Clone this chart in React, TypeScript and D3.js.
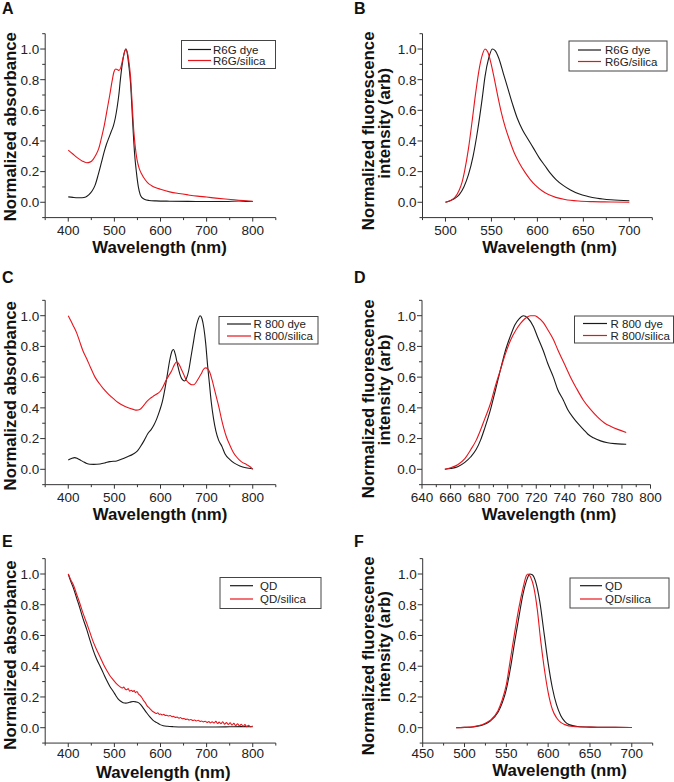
import React from "react";
import * as d3 from "d3";

type Pt = [number, number];

// ---------- Panel A: absorbance, R6G ----------
const r6gDyeAbs: Pt[] = [
  [400, 0.035], [410, 0.032], [420, 0.03], [430, 0.03], [438, 0.035], [445, 0.05], [452, 0.075],
  [458, 0.11], [465, 0.18], [472, 0.26], [478, 0.33], [483, 0.38], [488, 0.42], [493, 0.46],
  [498, 0.5], [502, 0.55], [506, 0.62], [510, 0.71], [513, 0.8], [517, 0.9], [521, 0.97],
  [525, 1.0], [528, 0.97], [531, 0.9], [535, 0.78], [538, 0.62], [541, 0.45], [544, 0.31],
  [548, 0.19], [552, 0.1], [556, 0.05], [560, 0.03], [566, 0.018], [575, 0.012], [590, 0.009],
  [620, 0.007], [660, 0.006], [700, 0.005], [740, 0.005], [770, 0.008], [785, 0.006], [800, 0.005],
];
const r6gSilicaAbs: Pt[] = [
  [400, 0.34], [410, 0.315], [420, 0.29], [430, 0.27], [440, 0.258], [447, 0.262], [454, 0.28],
  [460, 0.31], [466, 0.35], [472, 0.42], [478, 0.5], [484, 0.6], [490, 0.7], [495, 0.79],
  [499, 0.85], [503, 0.87], [507, 0.865], [510, 0.86], [514, 0.88], [518, 0.93], [522, 0.98],
  [525, 1.0], [528, 0.98], [531, 0.93], [535, 0.82], [539, 0.62], [542, 0.47], [545, 0.37],
  [549, 0.28], [554, 0.22], [560, 0.18], [566, 0.15], [573, 0.125], [580, 0.11], [590, 0.095],
  [600, 0.085], [620, 0.068], [640, 0.057], [660, 0.048], [680, 0.04], [700, 0.034], [720, 0.027],
  [740, 0.021], [760, 0.016], [780, 0.011], [800, 0.006],
];

// ---------- Panel B: fluorescence, R6G ----------
const r6gDyeFl: Pt[] = [
  [500, 0], [505, 0.01], [510, 0.025], [515, 0.05], [520, 0.1], [525, 0.18], [530, 0.3],
  [535, 0.47], [540, 0.68], [543, 0.82], [547, 0.94], [551, 1.0], [554, 0.99], [558, 0.94],
  [563, 0.84], [568, 0.74], [573, 0.64], [578, 0.55], [584, 0.47], [590, 0.41], [596, 0.35],
  [602, 0.29], [608, 0.24], [614, 0.19], [620, 0.15], [628, 0.11], [636, 0.08], [645, 0.055],
  [655, 0.038], [665, 0.026], [680, 0.016], [700, 0.01],
];
const r6gSilicaFl: Pt[] = [
  [500, 0], [505, 0.01], [510, 0.03], [515, 0.08], [518, 0.13], [521, 0.21], [525, 0.35],
  [529, 0.53], [533, 0.72], [537, 0.88], [540, 0.96], [543, 1.0], [546, 0.98], [549, 0.92],
  [553, 0.81], [557, 0.69], [561, 0.58], [565, 0.49], [570, 0.4], [575, 0.32], [580, 0.26],
  [586, 0.2], [592, 0.15], [598, 0.11], [605, 0.075], [612, 0.05], [620, 0.032], [630, 0.018],
  [645, 0.008], [660, 0.004], [680, 0.002], [700, 0.0],
];

// ---------- Panel C: absorbance, R 800 ----------
const r800DyeAbs: Pt[] = [
  [400, 0.06], [407, 0.07], [414, 0.076], [420, 0.07], [426, 0.06], [432, 0.05], [440, 0.038],
  [447, 0.033], [455, 0.032], [469, 0.035], [480, 0.042], [490, 0.05], [505, 0.054], [515, 0.065],
  [527, 0.08], [541, 0.1], [550, 0.12], [557, 0.15], [565, 0.19], [572, 0.23], [580, 0.26],
  [586, 0.29], [592, 0.33], [598, 0.38], [604, 0.44], [610, 0.53], [615, 0.62], [620, 0.71],
  [625, 0.77], [628, 0.78], [632, 0.75], [637, 0.68], [642, 0.62], [647, 0.585], [652, 0.575],
  [656, 0.59], [661, 0.64], [666, 0.73], [671, 0.82], [676, 0.91], [681, 0.97], [686, 1.0],
  [690, 0.98], [694, 0.92], [698, 0.82], [702, 0.68], [706, 0.56], [710, 0.44], [715, 0.33],
  [720, 0.25], [726, 0.19], [733, 0.15], [740, 0.1], [750, 0.065], [760, 0.04], [772, 0.022],
  [785, 0.01], [800, 0.004],
];
const r800SilicaAbs: Pt[] = [
  [400, 1.0], [405, 0.97], [410, 0.94], [418, 0.89], [425, 0.83], [432, 0.77], [440, 0.72],
  [448, 0.665], [458, 0.6], [467, 0.56], [476, 0.525], [487, 0.49], [498, 0.46], [508, 0.435],
  [519, 0.415], [530, 0.4], [541, 0.39], [548, 0.385], [555, 0.39], [562, 0.41], [570, 0.44],
  [577, 0.46], [584, 0.475], [592, 0.49], [600, 0.51], [606, 0.54], [612, 0.58], [618, 0.61],
  [624, 0.64], [630, 0.68], [635, 0.7], [639, 0.69], [644, 0.66], [650, 0.62], [656, 0.58],
  [662, 0.56], [668, 0.55], [672, 0.55], [677, 0.565], [682, 0.59], [688, 0.62], [693, 0.65],
  [698, 0.66], [702, 0.655], [707, 0.63], [712, 0.58], [717, 0.52], [722, 0.46], [727, 0.4],
  [732, 0.33], [737, 0.27], [743, 0.21], [750, 0.16], [758, 0.11], [765, 0.08], [775, 0.05],
  [787, 0.03], [795, 0.015], [800, 0.0],
];

// ---------- Panel D: fluorescence, R 800 ----------
const r800DyeFl: Pt[] = [
  [656, 0], [660, 0.005], [665, 0.017], [670, 0.045], [674, 0.08], [678, 0.13], [681, 0.19],
  [684, 0.27], [688, 0.39], [691, 0.5], [695, 0.65], [698, 0.76], [702, 0.87], [705, 0.94],
  [708, 0.98], [711, 1.0], [714, 0.985], [718, 0.93], [721, 0.86], [725, 0.77], [728, 0.69],
  [732, 0.6], [735, 0.52], [739, 0.45], [742, 0.39], [746, 0.335], [749, 0.3], [753, 0.26],
  [756, 0.23], [760, 0.205], [765, 0.185], [770, 0.173], [775, 0.167], [780, 0.164], [783, 0.163],
];
const r800SilicaFl: Pt[] = [
  [656, 0], [660, 0.01], [665, 0.03], [670, 0.07], [674, 0.126], [678, 0.19], [681, 0.256],
  [684, 0.33], [688, 0.43], [691, 0.53], [695, 0.65], [698, 0.74], [702, 0.84], [706, 0.91],
  [709, 0.95], [712, 0.98], [716, 1.0], [719, 1.0], [721, 0.99], [725, 0.955], [728, 0.91],
  [732, 0.845], [735, 0.78], [740, 0.68], [744, 0.6], [748, 0.53], [753, 0.45], [758, 0.39],
  [763, 0.34], [768, 0.3], [772, 0.28], [777, 0.26], [783, 0.24],
];

// ---------- Panel E: absorbance, QD ----------
const qdAbs: Pt[] = [
  [400, 1.0], [405, 0.955], [411, 0.91], [418, 0.845], [425, 0.78], [432, 0.71], [440, 0.64],
  [447, 0.57], [454, 0.505], [461, 0.45], [469, 0.4], [476, 0.355], [483, 0.31], [490, 0.27],
  [498, 0.234], [503, 0.21], [508, 0.187], [514, 0.172], [519, 0.163], [525, 0.16], [530, 0.162],
  [536, 0.168], [541, 0.17], [547, 0.168], [552, 0.163], [557, 0.15], [563, 0.126], [570, 0.097],
  [577, 0.07], [584, 0.048], [592, 0.033], [599, 0.02], [606, 0.013], [615, 0.009], [628, 0.0065],
  [650, 0.005], [686, 0.005], [720, 0.005], [750, 0.006], [775, 0.007], [800, 0.006],
];
const qdSilicaAbs: Pt[] = [
  [400, 1.0], [405, 0.965], [411, 0.93], [418, 0.87], [425, 0.81], [432, 0.745], [440, 0.68],
  [447, 0.62], [454, 0.56], [461, 0.51], [469, 0.46], [476, 0.415], [483, 0.375], [490, 0.34],
  [498, 0.31], [505, 0.285], [512, 0.267], [517, 0.258], [520, 0.264], [524, 0.25], [527, 0.247],
  [530, 0.254], [533, 0.238], [537, 0.244], [540, 0.236], [543, 0.241], [546, 0.228], [549, 0.236],
  [552, 0.219], [555, 0.212], [559, 0.198], [563, 0.178], [567, 0.163], [571, 0.142], [575, 0.13],
  [579, 0.118], [582, 0.108], [585, 0.102], [588, 0.097], [591, 0.092], [594, 0.097], [597, 0.087],
  [600, 0.089], [604, 0.083], [607, 0.087], [610, 0.079], [614, 0.081], [617, 0.076], [621, 0.079],
  [625, 0.071], [628, 0.074], [632, 0.067], [636, 0.069], [640, 0.061], [643, 0.066], [647, 0.058],
  [651, 0.06], [655, 0.054], [658, 0.057], [662, 0.05], [666, 0.053], [670, 0.047], [674, 0.05],
  [678, 0.044], [682, 0.048], [686, 0.04], [689, 0.044], [693, 0.038], [697, 0.042], [701, 0.034],
  [705, 0.04], [708, 0.031], [712, 0.038], [716, 0.03], [720, 0.041], [724, 0.027], [727, 0.036],
  [731, 0.026], [735, 0.039], [739, 0.023], [743, 0.033], [747, 0.021], [751, 0.032], [755, 0.017],
  [759, 0.028], [763, 0.013], [767, 0.026], [771, 0.011], [775, 0.022], [779, 0.009], [783, 0.02],
  [787, 0.007], [791, 0.016], [795, 0.006], [800, 0.012],
];

// ---------- Panel F: fluorescence, QD ----------
const qdFl: Pt[] = [
  [490, 0], [500, 0.002], [510, 0.005], [520, 0.015], [530, 0.04], [540, 0.1], [545, 0.16],
  [550, 0.25], [555, 0.39], [560, 0.56], [565, 0.72], [570, 0.87], [575, 0.97], [578, 1.0],
  [581, 0.995], [585, 0.95], [590, 0.82], [595, 0.62], [600, 0.42], [605, 0.26], [610, 0.15],
  [615, 0.08], [620, 0.04], [625, 0.02], [635, 0.008], [650, 0.004], [680, 0.002], [700, 0.001],
];
const qdSilicaFl: Pt[] = [
  [490, 0], [500, 0.002], [510, 0.006], [520, 0.017], [530, 0.045], [540, 0.11], [545, 0.18],
  [550, 0.28], [555, 0.45], [560, 0.62], [565, 0.78], [570, 0.91], [574, 0.99], [576, 1.0],
  [579, 0.98], [583, 0.91], [587, 0.77], [591, 0.57], [595, 0.4], [600, 0.23], [605, 0.12],
  [610, 0.065], [615, 0.035], [620, 0.02], [630, 0.008], [650, 0.004], [680, 0.002], [700, 0.001],
];

// ---------- Tick values ----------
const yMajor = [0, 0.2, 0.4, 0.6, 0.8, 1.0];
const yMinor = [-0.1, 0.1, 0.3, 0.5, 0.7, 0.9, 1.1];
const absMajor = [400, 500, 600, 700, 800];
const absMinor = [350, 450, 550, 650, 750, 850];
const r6gFlMajor = [500, 550, 600, 650, 700];
const r6gFlMinor = [475, 525, 575, 625, 675, 725];
const r800FlMajor = [640, 660, 680, 700, 720, 740, 760, 780, 800];
const r800FlMinor = [650, 670, 690, 710, 730, 750, 770, 790];
const qdFlMajor = [450, 500, 550, 600, 650, 700];
const qdFlMinor = [475, 525, 575, 625, 675, 725];

const FONT = "'Liberation Sans', Arial, Helvetica, sans-serif";
const BLACK = "#1a1a1a";
const RED = "#e8141c";

type Panel = {
  letter: string;
  lx: number;
  ly: number;
  xr: [number, number];
  yr: [number, number];
  domain: [number, number];
  major: number[];
  minor: number[];
  tickDy: number;
  yLabels: { text: string; x: number; cy: number }[];
  xLabel: { x: number; y: number };
  series: { data: Pt[]; color: string }[];
  legend: {
    x: number; y: number; w: number; h: number;
    l1: number; l2: number; tx: number; rows: number[]; labels: string[];
  };
};

const panels: Panel[] = [
  {
    letter: "A", lx: 2, ly: 14,
    xr: [45.2, 275.8], yr: [217.6, 33.7], domain: [350, 850],
    major: absMajor, minor: absMinor, tickDy: 17,
    yLabels: [{ text: "Normalized absorbance", x: 15.5, cy: 126.7 }],
    xLabel: { x: 159.5, y: 252.5 },
    series: [{ data: r6gDyeAbs, color: BLACK }, { data: r6gSilicaAbs, color: RED }],
    legend: { x: 181.5, y: 40.5, w: 94, h: 28, l1: 188, l2: 211, tx: 213, rows: [49.5, 60.5], labels: ["R6G dye", "R6G/silica"] },
  },
  {
    letter: "B", lx: 354, ly: 14,
    xr: [422.5, 652.3], yr: [217.6, 33.7], domain: [475, 725],
    major: r6gFlMajor, minor: r6gFlMinor, tickDy: 17,
    yLabels: [
      { text: "Normalized fluorescence", x: 373.5, cy: 130.8 },
      { text: "intensity (arb)", x: 389.5, cy: 123.3 },
    ],
    xLabel: { x: 549.5, y: 252.5 },
    series: [{ data: r6gDyeFl, color: BLACK }, { data: r6gSilicaFl, color: RED }],
    legend: { x: 569, y: 41, w: 98, h: 30, l1: 578, l2: 601, tx: 605, rows: [50, 61.5], labels: ["R6G dye", "R6G/silica"] },
  },
  {
    letter: "C", lx: 2, ly: 283.3,
    xr: [45.2, 275.8], yr: [484.66, 300.34], domain: [350, 850],
    major: absMajor, minor: absMinor, tickDy: 17,
    yLabels: [{ text: "Normalized absorbance", x: 15.5, cy: 395.8 }],
    xLabel: { x: 160, y: 520 },
    series: [{ data: r800DyeAbs, color: BLACK }, { data: r800SilicaAbs, color: RED }],
    legend: { x: 219, y: 316.5, w: 99, h: 27.5, l1: 227, l2: 251, tx: 253.5, rows: [324, 336], labels: ["R 800 dye", "R 800/silica"] },
  },
  {
    letter: "D", lx: 354, ly: 283.3,
    xr: [422, 650.5], yr: [484.66, 300.34], domain: [640, 800],
    major: r800FlMajor, minor: r800FlMinor, tickDy: 17,
    yLabels: [
      { text: "Normalized fluorescence", x: 373.5, cy: 398.8 },
      { text: "intensity (arb)", x: 389.5, cy: 390 },
    ],
    xLabel: { x: 549, y: 520 },
    series: [{ data: r800DyeFl, color: BLACK }, { data: r800SilicaFl, color: RED }],
    legend: { x: 574.5, y: 316, w: 99, h: 27, l1: 583, l2: 607, tx: 610.5, rows: [323.5, 335.5], labels: ["R 800 dye", "R 800/silica"] },
  },
  {
    letter: "E", lx: 2, ly: 546.7,
    xr: [45.2, 275.8], yr: [743.07, 558.63], domain: [350, 850],
    major: absMajor, minor: absMinor, tickDy: 14.5,
    yLabels: [{ text: "Normalized absorbance", x: 15.5, cy: 655 }],
    xLabel: { x: 163.3, y: 777.5 },
    series: [{ data: qdAbs, color: BLACK }, { data: qdSilicaAbs, color: RED }],
    legend: { x: 220, y: 577.5, w: 101, h: 31, l1: 230, l2: 253, tx: 260, rows: [585.7, 599], labels: ["QD", "QD/silica"] },
  },
  {
    letter: "F", lx: 354, ly: 546.7,
    xr: [422.7, 652.7], yr: [743.07, 558.63], domain: [450, 725],
    major: qdFlMajor, minor: qdFlMinor, tickDy: 14.5,
    yLabels: [
      { text: "Normalized fluorescence", x: 373.5, cy: 655.8 },
      { text: "intensity (arb)", x: 389.5, cy: 646.7 },
    ],
    xLabel: { x: 559.5, y: 776 },
    series: [{ data: qdFl, color: BLACK }, { data: qdSilicaFl, color: RED }],
    legend: { x: 570, y: 578, w: 99, h: 30, l1: 580, l2: 602, tx: 605, rows: [585.7, 599], labels: ["QD", "QD/silica"] },
  },
];

function PanelView({ p }: { p: Panel }) {
  const x = d3.scaleLinear().domain(p.domain).range(p.xr);
  const y = d3.scaleLinear().domain([-0.1, 1.1]).range(p.yr);
  const line = d3
    .line<Pt>()
    .x((d) => x(d[0]))
    .y((d) => y(d[1]))
    .curve(d3.curveMonotoneX);
  const axisX = p.xr[0];
  const axisY = p.yr[0];
  const axisColor = "#333";
  return (
    <g>
      <text x={p.lx} y={p.ly} fontFamily={FONT} fontWeight="bold" fontSize={16} fill="#111">
        {p.letter}
      </text>
      {/* axes */}
      <line x1={axisX} x2={axisX} y1={p.yr[0]} y2={p.yr[1]} stroke={axisColor} strokeWidth={1} />
      <line x1={p.xr[0]} x2={p.xr[1]} y1={axisY} y2={axisY} stroke={axisColor} strokeWidth={1} />
      {yMajor.map((v) => (
        <g key={"ym" + v}>
          <line x1={axisX - 5} x2={axisX} y1={y(v)} y2={y(v)} stroke={axisColor} strokeWidth={1} />
          <text x={axisX - 6} y={y(v)} dy="0.36em" textAnchor="end" fontFamily={FONT} fontSize={13.5} fill="#222">
            {v.toFixed(1)}
          </text>
        </g>
      ))}
      {yMinor.map((v) => (
        <line key={"yn" + v} x1={axisX - 3} x2={axisX} y1={y(v)} y2={y(v)} stroke={axisColor} strokeWidth={1} />
      ))}
      {p.major.map((v) => (
        <g key={"xm" + v}>
          <line x1={x(v)} x2={x(v)} y1={axisY} y2={axisY + 4} stroke={axisColor} strokeWidth={1} />
          <text x={x(v)} y={axisY + p.tickDy} textAnchor="middle" fontFamily={FONT} fontSize={13.5} fill="#222">
            {v}
          </text>
        </g>
      ))}
      {p.minor.map((v) => (
        <line key={"xn" + v} x1={x(v)} x2={x(v)} y1={axisY} y2={axisY + 2.5} stroke={axisColor} strokeWidth={1} />
      ))}
      {/* axis titles */}
      {p.yLabels.map((l) => (
        <text
          key={l.text}
          transform={`translate(${l.x},${l.cy}) rotate(-90)`}
          textAnchor="middle"
          fontFamily={FONT}
          fontWeight="bold"
          fontSize={16.8}
          fill="#111"
        >
          {l.text}
        </text>
      ))}
      <text x={p.xLabel.x} y={p.xLabel.y} textAnchor="middle" fontFamily={FONT} fontWeight="bold" fontSize={16.8} fill="#111">
        Wavelength (nm)
      </text>
      {/* series */}
      {p.series.map((s, i) => (
        <path key={i} d={line(s.data) || ""} fill="none" stroke={s.color} strokeWidth={1.1} strokeLinejoin="round" />
      ))}
      {/* legend */}
      <rect x={p.legend.x} y={p.legend.y} width={p.legend.w} height={p.legend.h} fill="#fff" stroke="#444" strokeWidth={1} />
      {p.legend.labels.map((lab, i) => (
        <g key={lab}>
          <line x1={p.legend.l1} x2={p.legend.l2} y1={p.legend.rows[i]} y2={p.legend.rows[i]} stroke={p.series[i].color} strokeWidth={1.2} />
          <text x={p.legend.tx} y={p.legend.rows[i]} dy="0.36em" fontFamily={FONT} fontSize={11.5} fill="#222">
            {lab}
          </text>
        </g>
      ))}
    </g>
  );
}

export default function App() {
  return (
    <svg
      width={674}
      height={782}
      viewBox="0 0 674 782"
      style={{ position: "absolute", left: 0, top: 0, background: "#fff" }}
    >
      <rect width={674} height={782} fill="#fff" />
      {panels.map((p) => (
        <PanelView key={p.letter} p={p} />
      ))}
    </svg>
  );
}
